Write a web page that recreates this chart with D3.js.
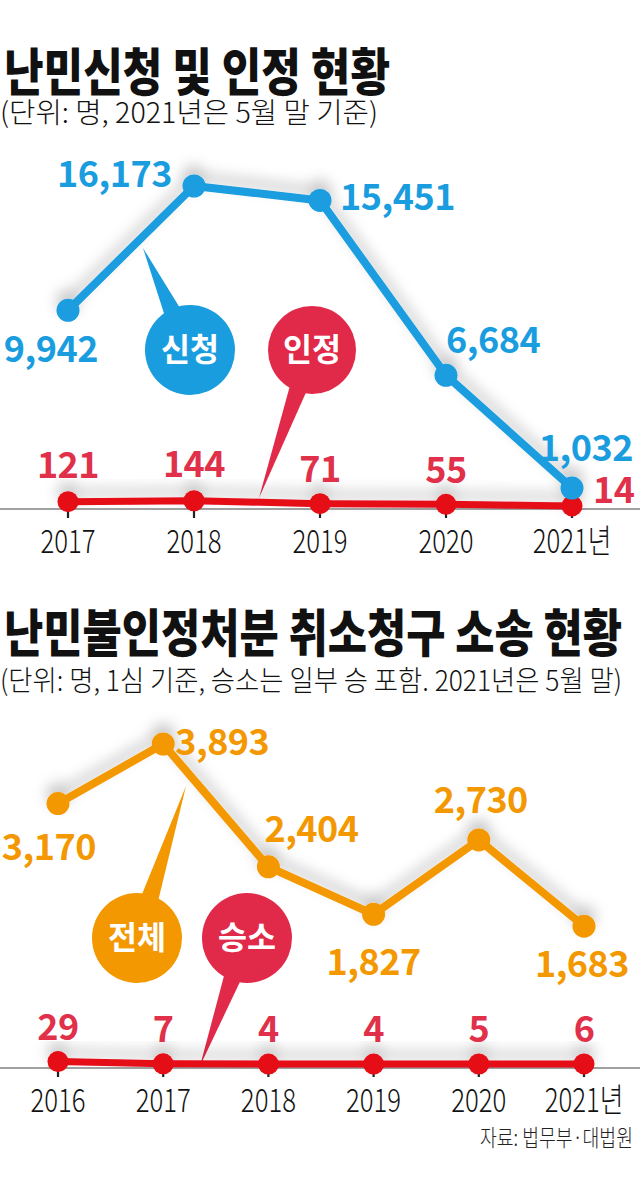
<!DOCTYPE html>
<html>
<head>
<meta charset="utf-8">
<script src="https://cdn.jsdelivr.net/npm/d3@7"></script>
<style>
  html, body { margin: 0; padding: 0; background: #fff; }
  svg { display: block; font-family: "Noto Sans CJK KR", "Noto Sans", sans-serif; }
</style>
</head>
<body>
<svg id="chart" width="640" height="1177"></svg>
<script>
// ---------- data ----------
const years1 = ["2017", "2018", "2019", "2020", "2021년"];
const applications = [9942, 16173, 15451, 6684, 1032];   // 신청
const recognitions = [121, 144, 71, 55, 14];             // 인정

const years2 = ["2016", "2017", "2018", "2019", "2020", "2021년"];
const lawsuits = [3170, 3893, 2404, 1827, 2730, 1683];   // 전체
const wins = [29, 7, 4, 4, 5, 6];                        // 승소

const title1 = "난민신청 및 인정 현황";
const subtitle1 = "(단위: 명, 2021년은 5월 말 기준)";
const title2 = "난민불인정처분 취소청구 소송 현황";
const subtitle2 = "(단위: 명, 1심 기준, 승소는 일부 승 포함. 2021년은 5월 말)";
const source = "자료: 법무부·대법원";

// ---------- styles ----------
const BLUE = "#1a9ddf", RED_LINE = "#e50914", RED_TEXT = "#e0304a", RED_BUBBLE = "#e12a4a", ORANGE = "#f39800";
const fmt = d3.format(",");

const svg = d3.select("#chart");
const defs = svg.append("defs");
const f = defs.append("filter").attr("id", "shadow")
  .attr("x", "-20%").attr("y", "-40%").attr("width", "140%").attr("height", "180%");
f.append("feDropShadow").attr("dx", 0).attr("dy", -9).attr("stdDeviation", 7)
  .attr("flood-color", "#000").attr("flood-opacity", 0.22);

function condText(g, x, y, txt, size, weight, color, sx, anchor) {
  return g.append("text")
    .attr("transform", `translate(${x},${y}) scale(${sx},1)`)
    .attr("text-anchor", anchor || "middle")
    .attr("font-size", size).attr("font-weight", weight).attr("fill", color)
    .text(txt);
}

function fitText(x, y, txt, size, weight, len) {
  svg.append("text").attr("x", x).attr("y", y)
    .attr("font-size", size).attr("font-weight", weight).attr("fill", "#111")
    .attr("textLength", len).attr("lengthAdjust", "spacingAndGlyphs")
    .text(txt);
}

function bubble(cx, cy, r, tx, ty, label, color) {
  const g = svg.append("g");
  const ang = Math.atan2(ty - cy, tx - cx);
  const bx = cx + Math.cos(ang) * r * 0.85, by = cy + Math.sin(ang) * r * 0.85;
  const px = -Math.sin(ang) * 9, py = Math.cos(ang) * 9;
  g.append("path")
    .attr("d", `M${tx},${ty}L${bx + px},${by + py}L${bx - px},${by - py}Z`)
    .attr("fill", color);
  g.append("circle").attr("cx", cx).attr("cy", cy).attr("r", r).attr("fill", color);
  g.append("text").attr("x", cx).attr("y", cy + 11).attr("text-anchor", "middle")
    .attr("font-size", 32).attr("font-weight", 700).attr("fill", "#fff")
    .attr("textLength", 58).attr("lengthAdjust", "spacingAndGlyphs")
    .text(label);
}

function axis(xScale, cats, yAxis) {
  const g = svg.append("g");
  g.append("line").attr("x1", 0).attr("x2", 640).attr("y1", yAxis).attr("y2", yAxis)
    .attr("stroke", "#444").attr("stroke-width", 1.2);
  cats.forEach(c => {
    g.append("line").attr("x1", xScale(c)).attr("x2", xScale(c))
      .attr("y1", yAxis).attr("y2", yAxis + 9).attr("stroke", "#222").attr("stroke-width", 2.2);
    condText(g, xScale(c), yAxis + 44, c, 33, 300, "#111", 0.78, "middle");
  });
}

function series(xScale, cats, yScale, vals, color, lw, r) {
  const g = svg.append("g").attr("filter", "url(#shadow)");
  const line = d3.line().x((d, i) => xScale(cats[i])).y(d => yScale(d));
  g.append("path").datum(vals).attr("d", line).attr("fill", "none")
    .attr("stroke", color).attr("stroke-width", lw).attr("stroke-linejoin", "round");
  g.selectAll("circle.p").data(vals).enter().append("circle")
    .attr("cx", (d, i) => xScale(cats[i])).attr("cy", d => yScale(d)).attr("r", r)
    .attr("fill", color);
}

function labels(xScale, cats, yScale, vals, color, place) {
  const g = svg.append("g");
  vals.forEach((v, i) => {
    const p = place[i];
    g.append("text")
      .attr("x", xScale(cats[i]) + p[0]).attr("y", yScale(v) + p[1])
      .attr("text-anchor", p[2])
      .attr("font-size", 36).attr("font-weight", 700).attr("fill", color)
      .attr("letter-spacing", -0.5)
      .text(fmt(v));
  });
}

// ---------- chart 1 ----------
fitText(4, 91, title1, 51, 800, 386);
fitText(0, 123, subtitle1, 28, 300, 378);

const x1 = d3.scalePoint().domain(years1).range([68, 572]);
const y1 = d3.scaleLinear().domain([0, 16173]).range([508.6, 186]);
const y1r = d3.scaleLinear().domain([0, 150]).range([506.5, 500.5]);

bubble(190, 350, 45, 143, 248, "신청", BLUE);
bubble(312, 350, 44, 259, 498, "인정", RED_BUBBLE);

axis(x1, years1, 509);
series(x1, years1, y1r, recognitions, RED_LINE, 7, 10.5);
series(x1, years1, y1, applications, BLUE, 8, 11.5);

labels(x1, years1, y1, applications, BLUE,
  [[30, 52, "end"], [-22, 1, "end"], [20, 10, "start"], [0, -22, "start"], [61, -27, "end"]]);
labels(x1, years1, y1r, recognitions, RED_TEXT,
  [[0, -24, "middle"], [0, -24, "middle"], [0, -22, "middle"], [0, -21, "middle"], [21, -3, "start"]]);

// ---------- chart 2 ----------
fitText(4, 652, title2, 51, 800, 618);
fitText(0, 691, subtitle2, 28, 300, 622);

const x2 = d3.scalePoint().domain(years2).range([58, 584]);
const y2 = d3.scaleLinear().domain([0, 3893]).range([1065, 744]);
const y2r = d3.scaleLinear().domain([0, 30]).range([1064.5, 1061.5]);

bubble(137, 938, 45, 186, 786, "전체", ORANGE);
bubble(247, 938, 45, 200, 1066, "승소", RED_BUBBLE);

axis(x2, years2, 1068);
series(x2, years2, y2r, wins, RED_LINE, 7, 10.5);
series(x2, years2, y2, lawsuits, ORANGE, 8, 11.5);

labels(x2, years2, y2, lawsuits, ORANGE,
  [[38, 56, "end"], [12, 11, "start"], [-4, -25, "start"], [0, 61, "middle"], [2, -27, "middle"], [-2, 51, "middle"]]);
labels(x2, years2, y2r, wins, RED_TEXT,
  [[0, -22, "middle"], [0, -22, "middle"], [0, -22, "middle"], [0, -22, "middle"], [0, -22, "middle"], [0, -22, "middle"]]);

// ---------- source ----------
svg.append("text").attr("x", 633).attr("y", 1146).attr("text-anchor", "end")
  .attr("font-size", 23).attr("font-weight", 300).attr("fill", "#222")
  .attr("textLength", 153).attr("lengthAdjust", "spacingAndGlyphs")
  .text(source);
</script>
</body>
</html>
